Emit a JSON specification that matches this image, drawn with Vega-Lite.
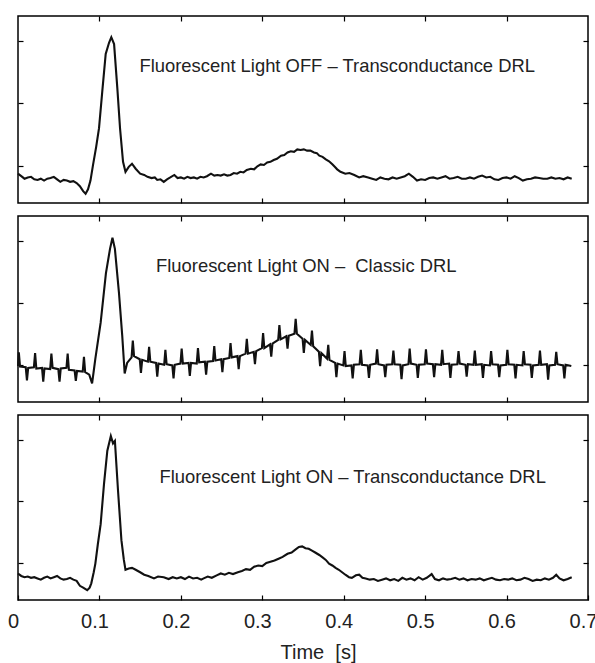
{
  "$schema": "https://vega.github.io/schema/vega-lite/v6.json",
  "padding": {"left": 6, "top": 14, "right": 0, "bottom": 0},
  "spacing": 9,
  "config": {
    "font": "Liberation Sans",
    "view": {"stroke": "#000", "strokeWidth": 1.5},
    "axis": {"grid": false, "domain": false, "tickColor": "#000", "tickWidth": 1.2, "tickSize": -5, "labelFont": "Liberation Sans", "labelFontSize": 20, "labelColor": "#222", "titleFont": "Liberation Sans", "titleFontSize": 20, "titleFontWeight": "normal", "titleColor": "#222"}
  },
  "datasets": {
    "a": [
      {"t":0.000,"v":-0.13},{"t":0.004,"v":-0.17},{"t":0.008,"v":-0.21},{"t":0.012,"v":-0.19},{"t":0.016,"v":-0.18},{"t":0.020,"v":-0.22},{"t":0.024,"v":-0.23},{"t":0.028,"v":-0.21},{"t":0.032,"v":-0.24},{"t":0.036,"v":-0.21},{"t":0.040,"v":-0.20},{"t":0.044,"v":-0.18},{"t":0.048,"v":-0.22},{"t":0.052,"v":-0.26},{"t":0.056,"v":-0.23},{"t":0.060,"v":-0.24},{"t":0.064,"v":-0.26},{"t":0.068,"v":-0.25},{"t":0.072,"v":-0.28},{"t":0.076,"v":-0.33},{"t":0.080,"v":-0.41},{"t":0.083,"v":-0.45},{"t":0.086,"v":-0.38},{"t":0.089,"v":-0.24},{"t":0.092,"v":0.00},{"t":0.096,"v":0.30},{"t":0.0995,"v":0.60},{"t":0.1035,"v":1.19},{"t":0.1077,"v":1.79},{"t":0.1118,"v":1.97},{"t":0.1146,"v":2.06},{"t":0.118,"v":1.95},{"t":0.122,"v":1.24},{"t":0.1253,"v":0.60},{"t":0.129,"v":0.06},{"t":0.132,"v":-0.10},{"t":0.136,"v":-0.02},{"t":0.140,"v":0.03},{"t":0.1445,"v":-0.05},{"t":0.150,"v":-0.13},{"t":0.155,"v":-0.15},{"t":0.159,"v":-0.18},{"t":0.164,"v":-0.20},{"t":0.168,"v":-0.19},{"t":0.171,"v":-0.23},{"t":0.175,"v":-0.22},{"t":0.179,"v":-0.26},{"t":0.183,"v":-0.22},{"t":0.187,"v":-0.19},{"t":0.192,"v":-0.15},{"t":0.196,"v":-0.20},{"t":0.200,"v":-0.19},{"t":0.204,"v":-0.21},{"t":0.208,"v":-0.18},{"t":0.212,"v":-0.20},{"t":0.216,"v":-0.19},{"t":0.220,"v":-0.21},{"t":0.224,"v":-0.18},{"t":0.228,"v":-0.19},{"t":0.232,"v":-0.17},{"t":0.237,"v":-0.13},{"t":0.241,"v":-0.16},{"t":0.245,"v":-0.15},{"t":0.249,"v":-0.16},{"t":0.253,"v":-0.14},{"t":0.257,"v":-0.16},{"t":0.261,"v":-0.15},{"t":0.265,"v":-0.12},{"t":0.269,"v":-0.13},{"t":0.273,"v":-0.10},{"t":0.277,"v":-0.11},{"t":0.281,"v":-0.07},{"t":0.286,"v":-0.05},{"t":0.290,"v":-0.06},{"t":0.294,"v":-0.01},{"t":0.298,"v":0.02},{"t":0.302,"v":0.01},{"t":0.306,"v":0.05},{"t":0.310,"v":0.06},{"t":0.314,"v":0.09},{"t":0.318,"v":0.11},{"t":0.323,"v":0.16},{"t":0.327,"v":0.17},{"t":0.331,"v":0.21},{"t":0.335,"v":0.23},{"t":0.339,"v":0.22},{"t":0.343,"v":0.26},{"t":0.347,"v":0.25},{"t":0.351,"v":0.26},{"t":0.355,"v":0.24},{"t":0.359,"v":0.24},{"t":0.3635,"v":0.21},{"t":0.367,"v":0.20},{"t":0.370,"v":0.16},{"t":0.374,"v":0.14},{"t":0.378,"v":0.10},{"t":0.382,"v":0.07},{"t":0.386,"v":0.02},{"t":0.389,"v":-0.02},{"t":0.392,"v":-0.06},{"t":0.396,"v":-0.10},{"t":0.402,"v":-0.13},{"t":0.407,"v":-0.12},{"t":0.413,"v":-0.15},{"t":0.419,"v":-0.19},{"t":0.424,"v":-0.17},{"t":0.430,"v":-0.19},{"t":0.435,"v":-0.21},{"t":0.440,"v":-0.23},{"t":0.445,"v":-0.19},{"t":0.450,"v":-0.21},{"t":0.455,"v":-0.22},{"t":0.460,"v":-0.19},{"t":0.465,"v":-0.21},{"t":0.470,"v":-0.19},{"t":0.475,"v":-0.17},{"t":0.480,"v":-0.13},{"t":0.485,"v":-0.18},{"t":0.490,"v":-0.24},{"t":0.495,"v":-0.22},{"t":0.500,"v":-0.23},{"t":0.505,"v":-0.20},{"t":0.510,"v":-0.19},{"t":0.515,"v":-0.21},{"t":0.520,"v":-0.19},{"t":0.525,"v":-0.17},{"t":0.530,"v":-0.21},{"t":0.535,"v":-0.20},{"t":0.540,"v":-0.18},{"t":0.545,"v":-0.21},{"t":0.550,"v":-0.21},{"t":0.555,"v":-0.19},{"t":0.560,"v":-0.21},{"t":0.565,"v":-0.18},{"t":0.570,"v":-0.16},{"t":0.575,"v":-0.19},{"t":0.580,"v":-0.18},{"t":0.585,"v":-0.22},{"t":0.590,"v":-0.23},{"t":0.595,"v":-0.20},{"t":0.600,"v":-0.19},{"t":0.605,"v":-0.21},{"t":0.610,"v":-0.17},{"t":0.615,"v":-0.20},{"t":0.620,"v":-0.24},{"t":0.625,"v":-0.22},{"t":0.630,"v":-0.21},{"t":0.635,"v":-0.19},{"t":0.640,"v":-0.20},{"t":0.645,"v":-0.21},{"t":0.650,"v":-0.21},{"t":0.655,"v":-0.19},{"t":0.660,"v":-0.21},{"t":0.665,"v":-0.20},{"t":0.670,"v":-0.22},{"t":0.675,"v":-0.19},{"t":0.680,"v":-0.21}
    ],
    "b": [
      {"t":0.000,"v":-0.02},{"t":0.001,"v":0.20},{"t":0.0025,"v":-0.03},{"t":0.0095,"v":-0.04},
      {"t":0.011,"v":-0.25},{"t":0.0125,"v":-0.05},{"t":0.0195,"v":-0.04},
      {"t":0.021,"v":0.19},{"t":0.0225,"v":-0.06},{"t":0.0295,"v":-0.05},
      {"t":0.031,"v":-0.27},{"t":0.0325,"v":-0.06},{"t":0.0395,"v":-0.07},
      {"t":0.041,"v":0.18},{"t":0.0425,"v":-0.05},{"t":0.0495,"v":-0.07},
      {"t":0.051,"v":-0.27},{"t":0.0525,"v":-0.06},{"t":0.0595,"v":-0.05},
      {"t":0.061,"v":0.18},{"t":0.0625,"v":-0.08},{"t":0.0695,"v":-0.09},
      {"t":0.071,"v":-0.26},{"t":0.0725,"v":-0.10},{"t":0.0795,"v":-0.11},
      {"t":0.081,"v":0.13},{"t":0.0825,"v":-0.12},{"t":0.0875,"v":-0.16},
      {"t":0.091,"v":-0.30},{"t":0.093,"v":-0.10},{"t":0.095,"v":0.10},{"t":0.1015,"v":0.68},{"t":0.108,"v":1.48},{"t":0.113,"v":1.87},{"t":0.116,"v":2.05},{"t":0.119,"v":1.87},{"t":0.124,"v":1.16},{"t":0.128,"v":0.47},{"t":0.131,"v":-0.14},{"t":0.134,"v":0.03},{"t":0.1395,"v":0.12},
      {"t":0.141,"v":0.39},{"t":0.1425,"v":0.14},{"t":0.1495,"v":0.09},
      {"t":0.151,"v":-0.13},{"t":0.1525,"v":0.08},{"t":0.1595,"v":0.05},
      {"t":0.161,"v":0.29},{"t":0.1625,"v":0.05},{"t":0.1695,"v":0.03},
      {"t":0.171,"v":-0.19},{"t":0.1725,"v":0.02},{"t":0.1795,"v":0.00},
      {"t":0.181,"v":0.24},{"t":0.1825,"v":0.01},{"t":0.1895,"v":-0.01},
      {"t":0.191,"v":-0.22},{"t":0.1925,"v":0.00},{"t":0.1995,"v":0.02},
      {"t":0.201,"v":0.26},{"t":0.2025,"v":0.02},{"t":0.2095,"v":0.03},
      {"t":0.211,"v":-0.18},{"t":0.2125,"v":0.03},{"t":0.2195,"v":0.02},
      {"t":0.221,"v":0.27},{"t":0.2225,"v":0.04},{"t":0.2295,"v":0.05},
      {"t":0.231,"v":-0.16},{"t":0.2325,"v":0.05},{"t":0.2395,"v":0.06},
      {"t":0.241,"v":0.30},{"t":0.2425,"v":0.07},{"t":0.2495,"v":0.09},
      {"t":0.251,"v":-0.12},{"t":0.2525,"v":0.09},{"t":0.2595,"v":0.11},
      {"t":0.261,"v":0.35},{"t":0.2625,"v":0.12},{"t":0.2695,"v":0.14},
      {"t":0.271,"v":-0.07},{"t":0.2725,"v":0.14},{"t":0.2795,"v":0.18},
      {"t":0.281,"v":0.42},{"t":0.2825,"v":0.18},{"t":0.2895,"v":0.21},
      {"t":0.291,"v":0.01},{"t":0.2925,"v":0.22},{"t":0.2995,"v":0.27},
      {"t":0.301,"v":0.51},{"t":0.3025,"v":0.27},{"t":0.3095,"v":0.33},
      {"t":0.311,"v":0.13},{"t":0.3125,"v":0.34},{"t":0.3195,"v":0.40},
      {"t":0.321,"v":0.64},{"t":0.3225,"v":0.41},{"t":0.3295,"v":0.46},
      {"t":0.331,"v":0.26},{"t":0.3325,"v":0.47},{"t":0.3395,"v":0.50},
      {"t":0.341,"v":0.74},{"t":0.3425,"v":0.50},{"t":0.3495,"v":0.42},
      {"t":0.351,"v":0.19},{"t":0.3525,"v":0.40},{"t":0.3595,"v":0.32},
      {"t":0.361,"v":0.55},{"t":0.3625,"v":0.30},{"t":0.3695,"v":0.21},
      {"t":0.371,"v":-0.02},{"t":0.3725,"v":0.19},{"t":0.3795,"v":0.10},
      {"t":0.381,"v":0.32},{"t":0.3825,"v":0.08},{"t":0.3895,"v":0.03},
      {"t":0.391,"v":-0.20},{"t":0.3925,"v":0.02},{"t":0.3995,"v":-0.01},
      {"t":0.401,"v":0.22},{"t":0.4025,"v":-0.02},{"t":0.4095,"v":-0.01},
      {"t":0.411,"v":-0.22},{"t":0.4125,"v":0.00},{"t":0.4195,"v":0.01},
      {"t":0.421,"v":0.24},{"t":0.4225,"v":0.00},{"t":0.4295,"v":-0.01},
      {"t":0.431,"v":-0.21},{"t":0.4325,"v":0.00},{"t":0.4395,"v":0.02},
      {"t":0.441,"v":0.25},{"t":0.4425,"v":0.01},{"t":0.4495,"v":-0.01},
      {"t":0.451,"v":-0.20},{"t":0.4525,"v":0.00},{"t":0.4595,"v":0.01},
      {"t":0.461,"v":0.23},{"t":0.4625,"v":0.01},{"t":0.4695,"v":0.00},
      {"t":0.471,"v":-0.23},{"t":0.4725,"v":-0.01},{"t":0.4795,"v":0.01},
      {"t":0.481,"v":0.26},{"t":0.4825,"v":0.02},{"t":0.4895,"v":0.00},
      {"t":0.491,"v":-0.21},{"t":0.4925,"v":0.00},{"t":0.4995,"v":0.01},
      {"t":0.501,"v":0.25},{"t":0.5025,"v":0.02},{"t":0.5095,"v":0.01},
      {"t":0.511,"v":-0.20},{"t":0.5125,"v":0.01},{"t":0.5195,"v":0.00},
      {"t":0.521,"v":0.24},{"t":0.5225,"v":0.01},{"t":0.5295,"v":0.02},
      {"t":0.531,"v":-0.21},{"t":0.5325,"v":0.00},{"t":0.5395,"v":0.01},
      {"t":0.541,"v":0.22},{"t":0.5425,"v":0.02},{"t":0.5495,"v":0.00},
      {"t":0.551,"v":-0.19},{"t":0.5525,"v":0.01},{"t":0.5595,"v":0.00},
      {"t":0.561,"v":0.23},{"t":0.5625,"v":0.00},{"t":0.5695,"v":0.01},
      {"t":0.571,"v":-0.21},{"t":0.5725,"v":0.00},{"t":0.5795,"v":-0.01},
      {"t":0.581,"v":0.22},{"t":0.5825,"v":0.01},{"t":0.5895,"v":0.00},
      {"t":0.591,"v":-0.20},{"t":0.5925,"v":-0.01},{"t":0.5995,"v":0.00},
      {"t":0.601,"v":0.24},{"t":0.6025,"v":0.01},{"t":0.6095,"v":0.00},
      {"t":0.611,"v":-0.22},{"t":0.6125,"v":0.00},{"t":0.6195,"v":-0.01},
      {"t":0.621,"v":0.22},{"t":0.6225,"v":0.01},{"t":0.6295,"v":0.00},
      {"t":0.631,"v":-0.21},{"t":0.6325,"v":-0.01},{"t":0.6395,"v":0.00},
      {"t":0.641,"v":0.23},{"t":0.6425,"v":0.00},{"t":0.6495,"v":0.01},
      {"t":0.651,"v":-0.24},{"t":0.6525,"v":-0.01},{"t":0.6595,"v":0.00},
      {"t":0.661,"v":0.21},{"t":0.6625,"v":0.01},{"t":0.6695,"v":-0.01},
      {"t":0.671,"v":-0.22},{"t":0.6725,"v":0.00},{"t":0.6795,"v":-0.02}
    ],
    "c": [
      {"t":0.000,"v":-0.17},{"t":0.004,"v":-0.21},{"t":0.008,"v":-0.23},{"t":0.012,"v":-0.22},{"t":0.016,"v":-0.24},{"t":0.020,"v":-0.23},{"t":0.024,"v":-0.25},{"t":0.028,"v":-0.27},{"t":0.032,"v":-0.24},{"t":0.036,"v":-0.22},{"t":0.040,"v":-0.25},{"t":0.044,"v":-0.23},{"t":0.048,"v":-0.21},{"t":0.052,"v":-0.25},{"t":0.056,"v":-0.27},{"t":0.060,"v":-0.26},{"t":0.064,"v":-0.24},{"t":0.068,"v":-0.27},{"t":0.072,"v":-0.29},{"t":0.076,"v":-0.37},{"t":0.080,"v":-0.40},{"t":0.085,"v":-0.44},{"t":0.088,"v":-0.40},{"t":0.090,"v":-0.33},{"t":0.093,"v":-0.15},{"t":0.095,"v":-0.01},{"t":0.098,"v":0.30},{"t":0.1015,"v":0.63},{"t":0.1056,"v":1.28},{"t":0.1097,"v":1.82},{"t":0.114,"v":2.06},{"t":0.1167,"v":1.94},{"t":0.119,"v":1.98},{"t":0.1228,"v":1.18},{"t":0.127,"v":0.37},{"t":0.130,"v":0.05},{"t":0.132,"v":-0.11},{"t":0.136,"v":-0.09},{"t":0.140,"v":-0.08},{"t":0.1445,"v":-0.11},{"t":0.150,"v":-0.15},{"t":0.155,"v":-0.19},{"t":0.160,"v":-0.21},{"t":0.167,"v":-0.25},{"t":0.172,"v":-0.22},{"t":0.179,"v":-0.23},{"t":0.185,"v":-0.26},{"t":0.190,"v":-0.23},{"t":0.195,"v":-0.25},{"t":0.200,"v":-0.23},{"t":0.205,"v":-0.26},{"t":0.210,"v":-0.22},{"t":0.215,"v":-0.25},{"t":0.220,"v":-0.24},{"t":0.225,"v":-0.27},{"t":0.228,"v":-0.25},{"t":0.233,"v":-0.22},{"t":0.238,"v":-0.24},{"t":0.244,"v":-0.20},{"t":0.249,"v":-0.17},{"t":0.254,"v":-0.19},{"t":0.259,"v":-0.16},{"t":0.264,"v":-0.18},{"t":0.270,"v":-0.15},{"t":0.275,"v":-0.13},{"t":0.280,"v":-0.10},{"t":0.285,"v":-0.11},{"t":0.290,"v":-0.06},{"t":0.295,"v":-0.04},{"t":0.300,"v":-0.05},{"t":0.305,"v":0.00},{"t":0.310,"v":0.02},{"t":0.315,"v":0.04},{"t":0.320,"v":0.07},{"t":0.325,"v":0.10},{"t":0.331,"v":0.15},{"t":0.336,"v":0.17},{"t":0.341,"v":0.22},{"t":0.345,"v":0.26},{"t":0.349,"v":0.27},{"t":0.353,"v":0.24},{"t":0.357,"v":0.23},{"t":0.361,"v":0.20},{"t":0.365,"v":0.17},{"t":0.370,"v":0.13},{"t":0.374,"v":0.09},{"t":0.378,"v":0.05},{"t":0.382,"v":-0.01},{"t":0.386,"v":-0.04},{"t":0.390,"v":-0.08},{"t":0.394,"v":-0.11},{"t":0.398,"v":-0.15},{"t":0.402,"v":-0.19},{"t":0.4065,"v":-0.23},{"t":0.410,"v":-0.24},{"t":0.415,"v":-0.20},{"t":0.419,"v":-0.19},{"t":0.423,"v":-0.24},{"t":0.427,"v":-0.25},{"t":0.432,"v":-0.27},{"t":0.437,"v":-0.26},{"t":0.442,"v":-0.29},{"t":0.447,"v":-0.27},{"t":0.452,"v":-0.25},{"t":0.457,"v":-0.28},{"t":0.462,"v":-0.26},{"t":0.467,"v":-0.29},{"t":0.472,"v":-0.24},{"t":0.477,"v":-0.27},{"t":0.482,"v":-0.25},{"t":0.487,"v":-0.28},{"t":0.492,"v":-0.23},{"t":0.497,"v":-0.27},{"t":0.502,"v":-0.24},{"t":0.508,"v":-0.18},{"t":0.512,"v":-0.26},{"t":0.517,"v":-0.28},{"t":0.522,"v":-0.25},{"t":0.527,"v":-0.27},{"t":0.532,"v":-0.26},{"t":0.537,"v":-0.24},{"t":0.542,"v":-0.27},{"t":0.547,"v":-0.25},{"t":0.552,"v":-0.28},{"t":0.557,"v":-0.26},{"t":0.562,"v":-0.27},{"t":0.567,"v":-0.25},{"t":0.572,"v":-0.28},{"t":0.577,"v":-0.26},{"t":0.582,"v":-0.24},{"t":0.587,"v":-0.27},{"t":0.592,"v":-0.28},{"t":0.597,"v":-0.26},{"t":0.602,"v":-0.27},{"t":0.607,"v":-0.25},{"t":0.612,"v":-0.28},{"t":0.617,"v":-0.27},{"t":0.622,"v":-0.24},{"t":0.627,"v":-0.26},{"t":0.632,"v":-0.29},{"t":0.637,"v":-0.27},{"t":0.642,"v":-0.28},{"t":0.647,"v":-0.25},{"t":0.652,"v":-0.27},{"t":0.657,"v":-0.24},{"t":0.661,"v":-0.19},{"t":0.665,"v":-0.25},{"t":0.670,"v":-0.28},{"t":0.675,"v":-0.26},{"t":0.680,"v":-0.23}
    ]
  },
  "vconcat": [
    {
      "width": 570, "height": 187,
      "resolve": {"axis": {"x": "independent", "y": "independent"}},
      "layer": [
        {
          "data": {"name": "a"},
          "mark": {"type": "line", "color": "#111", "strokeWidth": 2.1, "interpolate": "linear"},
          "encoding": {
            "x": {"field": "t", "type": "quantitative", "scale": {"domain": [0, 0.7], "nice": false, "zero": false}, "axis": {"orient": "bottom", "values": [0.1, 0.2, 0.3, 0.4, 0.5, 0.6], "labels": false, "title": null}},
            "y": {"field": "v", "type": "quantitative", "scale": {"domain": [-0.6, 2.4], "nice": false, "zero": false}, "axis": {"orient": "left", "values": [0, 1, 2], "labels": false, "title": null}}
          }
        },
        {
          "data": {"name": "a"},
          "mark": {"type": "line", "strokeOpacity": 0},
          "encoding": {
            "x": {"field": "t", "type": "quantitative", "axis": {"orient": "top", "values": [0.1, 0.2, 0.3, 0.4, 0.5, 0.6], "labels": false, "title": null}},
            "y": {"field": "v", "type": "quantitative", "axis": {"orient": "right", "values": [0, 1, 2], "labels": false, "title": null}}
          }
        },
        {
          "data": {"values": [{"label": "Fluorescent Light OFF – Transconductance DRL", "t": 0.392, "v": 1.59}]},
          "mark": {"type": "text", "font": "Liberation Sans", "fontSize": 18.4, "color": "#222", "baseline": "middle", "align": "center"},
          "encoding": {
            "x": {"field": "t", "type": "quantitative", "axis": null},
            "y": {"field": "v", "type": "quantitative", "axis": null},
            "text": {"field": "label"}
          }
        }
      ]
    },
    {
      "width": 570, "height": 186,
      "resolve": {"axis": {"x": "independent", "y": "independent"}},
      "layer": [
        {
          "data": {"name": "b"},
          "mark": {"type": "line", "color": "#111", "strokeWidth": 2.1, "interpolate": "linear"},
          "encoding": {
            "x": {"field": "t", "type": "quantitative", "scale": {"domain": [0, 0.7], "nice": false, "zero": false}, "axis": {"orient": "bottom", "values": [0.1, 0.2, 0.3, 0.4, 0.5, 0.6], "labels": false, "title": null}},
            "y": {"field": "v", "type": "quantitative", "scale": {"domain": [-0.6, 2.4], "nice": false, "zero": false}, "axis": {"orient": "left", "values": [0, 1, 2], "labels": false, "title": null}}
          }
        },
        {
          "data": {"name": "b"},
          "mark": {"type": "line", "strokeOpacity": 0},
          "encoding": {
            "x": {"field": "t", "type": "quantitative", "axis": {"orient": "top", "values": [0.1, 0.2, 0.3, 0.4, 0.5, 0.6], "labels": false, "title": null}},
            "y": {"field": "v", "type": "quantitative", "axis": {"orient": "right", "values": [0, 1, 2], "labels": false, "title": null}}
          }
        },
        {
          "data": {"values": [{"label": "Fluorescent Light ON –\u00a0 Classic DRL", "t": 0.354, "v": 1.59}]},
          "mark": {"type": "text", "font": "Liberation Sans", "fontSize": 18.4, "color": "#222", "baseline": "middle", "align": "center"},
          "encoding": {
            "x": {"field": "t", "type": "quantitative", "axis": null},
            "y": {"field": "v", "type": "quantitative", "axis": null},
            "text": {"field": "label"}
          }
        }
      ]
    },
    {
      "width": 570, "height": 185,
      "resolve": {"axis": {"x": "independent", "y": "independent"}},
      "layer": [
        {
          "data": {"name": "c"},
          "mark": {"type": "line", "color": "#111", "strokeWidth": 2.1, "interpolate": "linear"},
          "encoding": {
            "x": {"field": "t", "type": "quantitative", "scale": {"domain": [0, 0.7], "nice": false, "zero": false}, "axis": {"orient": "bottom", "values": [0, 0.1, 0.2, 0.3, 0.4, 0.5, 0.6, 0.7], "format": "~g", "labelOffset": -5, "labelPadding": 16, "labelFlush": false, "title": "Time\u00a0 [s]", "titleX": 300, "titlePadding": 11}},
            "y": {"field": "v", "type": "quantitative", "scale": {"domain": [-0.6, 2.4], "nice": false, "zero": false}, "axis": {"orient": "left", "values": [0, 1, 2], "labels": false, "title": null}}
          }
        },
        {
          "data": {"name": "c"},
          "mark": {"type": "line", "strokeOpacity": 0},
          "encoding": {
            "x": {"field": "t", "type": "quantitative", "axis": {"orient": "top", "values": [0.1, 0.2, 0.3, 0.4, 0.5, 0.6], "labels": false, "title": null}},
            "y": {"field": "v", "type": "quantitative", "axis": {"orient": "right", "values": [0, 1, 2], "labels": false, "title": null}}
          }
        },
        {
          "data": {"values": [{"label": "Fluorescent Light ON – Transconductance DRL", "t": 0.411, "v": 1.40}]},
          "mark": {"type": "text", "font": "Liberation Sans", "fontSize": 18.4, "color": "#222", "baseline": "middle", "align": "center"},
          "encoding": {
            "x": {"field": "t", "type": "quantitative", "axis": null},
            "y": {"field": "v", "type": "quantitative", "axis": null},
            "text": {"field": "label"}
          }
        }
      ]
    }
  ]
}
